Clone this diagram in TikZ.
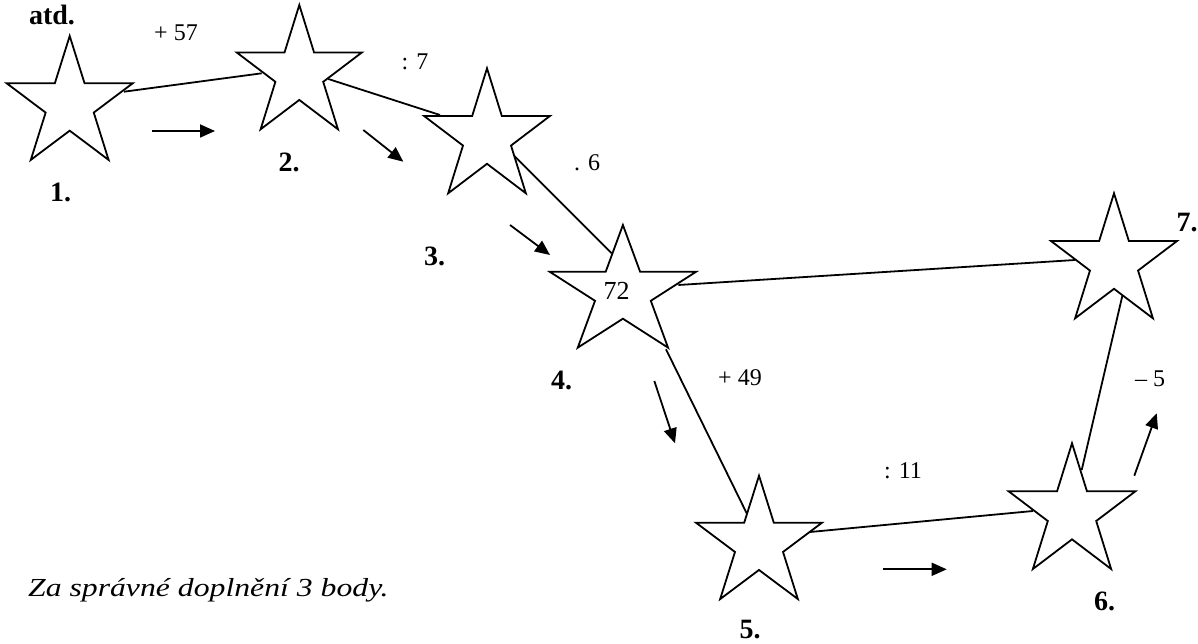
\documentclass[tikz,border=0pt]{standalone}
\usepackage{fontspec}
\setmainfont{Liberation Serif}
\newfontfamily\notefont[FakeStretch=1.22]{Liberation Serif}
\usetikzlibrary{arrows.meta}
\tikzset{
  starline/.style={draw=black, line width=1.8pt, fill=white, line join=miter},
  conn/.style={line width=1.8pt},
  arr/.style={line width=1.8pt, -{Triangle[length=15pt,width=13pt]}},
  lbl/.style={font=\fontsize{24}{28}\selectfont, inner sep=0pt},
  num/.style={font=\bfseries\fontsize{28}{32}\selectfont, inner sep=0pt},
  note/.style={font=\notefont\itshape\fontsize{26}{30}\selectfont, inner sep=0pt, anchor=west},
}
\newcommand\drawmystar[5]{%
  \coordinate (#1) at (#2,#3);
  \draw[starline] plot[samples at={0,...,9}]
    ({#2+(0.691+0.309*cos(180*\x))*#4*cos(90+36*\x)},
     {#3-(0.691+0.309*cos(180*\x))*#5*sin(90+36*\x)}) -- cycle;
}
\begin{document}
\begin{tikzpicture}[x=1pt,y=-1pt]
\useasboundingbox (0,0) rectangle (1198,644);
% connector end points
\coordinate (c12a) at (124,91.7);   \coordinate (c12b) at (261.7,73.3);
\coordinate (c23a) at (328.3,79);   \coordinate (c23b) at (440,115);
\coordinate (c34a) at (513.3,155);  \coordinate (c34b) at (611.7,253.3);
\coordinate (c47a) at (678.3,285);  \coordinate (c47b) at (1075,260);
\coordinate (c45a) at (666,349.3);  \coordinate (c45b) at (746.7,513.3);
\coordinate (c56a) at (810,532);    \coordinate (c56b) at (1033,511);
\coordinate (c67a) at (1081.7,470); \coordinate (c67b) at (1123.3,291.7);
\draw[conn] (c12a) -- (c12b);
\draw[conn] (c23a) -- (c23b);
\draw[conn] (c34a) -- (c34b);
\draw[conn] (c47a) -- (c47b);
\draw[conn] (c45a) -- (c45b);
\draw[conn] (c56a) -- (c56b);
\draw[conn] (c67a) -- (c67b);
% stars
\drawmystar{s1}{69.7}{104.5}{66.2}{68.5}
\drawmystar{s2}{299.3}{73.7}{65.8}{68.7}
\drawmystar{s3}{487}{137.4}{66.1}{69.1}
\drawmystar{s4}{622.9}{292.8}{76.8}{67.8}
\drawmystar{s5}{759}{543.9}{66.1}{68.2}
\drawmystar{s6}{1072}{512.8}{66.6}{69.5}
\drawmystar{s7}{1114}{262.4}{66.2}{69.1}
% arrows
\coordinate (a1a) at (152.3,131);   \coordinate (a1b) at (215,131);
\coordinate (a2a) at (363.3,130);   \coordinate (a2b) at (403.3,161.7);
\coordinate (a3a) at (510,225);     \coordinate (a3b) at (550,255);
\coordinate (a4a) at (654.3,381);   \coordinate (a4b) at (675,443.3);
\coordinate (a5a) at (883.3,569.3); \coordinate (a5b) at (946.7,569.3);
\coordinate (a6a) at (1134.3,475.7);\coordinate (a6b) at (1156.7,413.3);
\draw[arr] (a1a) -- (a1b);
\draw[arr] (a2a) -- (a2b);
\draw[arr] (a3a) -- (a3b);
\draw[arr] (a4a) -- (a4b);
\draw[arr] (a5a) -- (a5b);
\draw[arr] (a6a) -- (a6b);
% labels
\node[num] (tatd) at (52,14.5) {atd.};
\node[num] (n1) at (60.5,192) {1.};
\node[num] (n2) at (289,162.5) {2.};
\node[num] (n3) at (434.5,256) {3.};
\node[num] (n4) at (561.7,380.5) {4.};
\node[num] (n5) at (750,630) {5.};
\node[num] (n6) at (1104.7,601.7) {6.};
\node[num] (n7) at (1187,223) {7.};
\node[lbl] (o1) at (176,33) {+ 57};
\node[lbl] (o2) at (415,62) {: 7};
\node[lbl] (o3) at (587,163) {. 6};
\node[lbl,font=\fontsize{26}{30}\selectfont] (v4) at (616.7,291) {72};
\node[lbl] (o4) at (740,378) {+ 49};
\node[lbl] (o5) at (903,471) {: 11};
\node[lbl] (o6) at (1150,379) {– 5};
\node[note] (za) at (28,590) {Za správné doplnění 3 body.};
\end{tikzpicture}
\end{document}
